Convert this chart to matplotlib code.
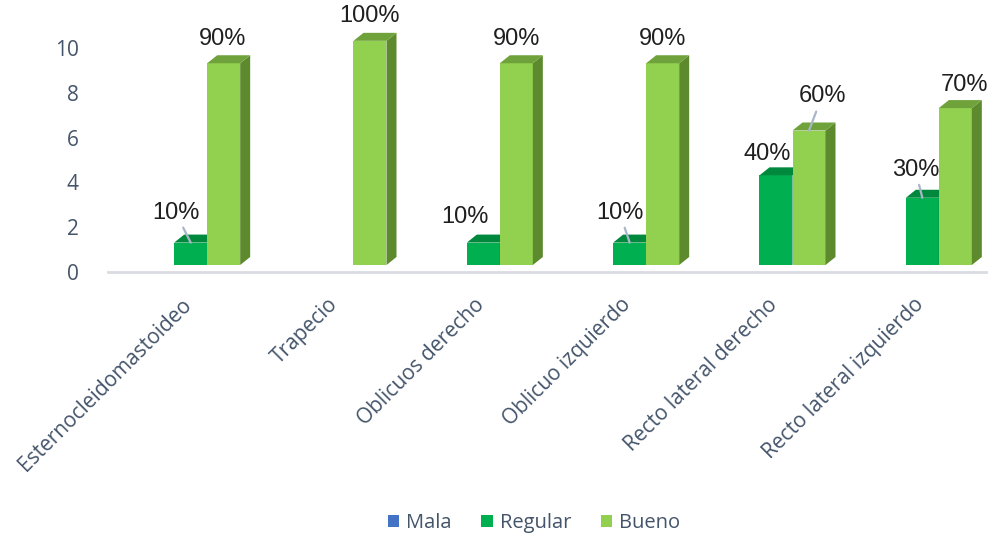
import matplotlib
matplotlib.use("Agg")
import matplotlib.pyplot as plt
from matplotlib.patches import Polygon, Rectangle
from matplotlib.transforms import offset_copy
import numpy as np

# ---- data -------------------------------------------------------------
categories = ["Esternocleidomastoideo", "Trapecio", "Oblicuos derecho",
              "Oblicuo izquierdo", "Recto lateral derecho",
              "Recto lateral izquierdo"]
series_names = ["Mala", "Regular", "Bueno"]
mala = [0, 0, 0, 0, 0, 0]
regular = [1, 0, 1, 1, 4, 3]
bueno = [9, 10, 9, 9, 6, 7]
regular_labels = ["10%", "", "10%", "10%", "40%", "30%"]
bueno_labels = ["90%", "100%", "90%", "90%", "60%", "70%"]
y_ticks = [0, 2, 4, 6, 8, 10]

# ---- styling ----------------------------------------------------------
front_colors = ["#4472C4", "#00B050", "#92D050"]
top_colors = ["#2F5597", "#00893D", "#6FA23A"]
side_colors = ["#264478", "#007A36", "#5E8A2E"]
axis_text = "#44546A"
leader_color = "#A9B6C8"
font_ui = "Open Sans"
font_lbl = "Liberation Sans"

# label offsets (pixels from the top-centre of each bar) and leader flags
reg_offsets = [(-15, 30), (0, 0), (-18, 26), (-10, 30), (-9, 21), (-7, 28)]
reg_leader = [True, False, False, True, False, True]
bue_offsets = [(-1, 24), (0, 25), (0, 24), (0, 24), (13, 34), (9, 23)]
bue_leader = [False, False, False, False, True, False]

W, H, DPI = 991, 537, 100
fig = plt.figure(figsize=(W / DPI, H / DPI), dpi=DPI)
ax = fig.add_axes([108 / W, (H - 272) / H, 878 / W, 269 / H])
ax.set_xlim(-0.5, len(categories) - 0.5)
ax.set_ylim(0, 12)

# pixel -> data scale for the oblique depth of the columns
p0 = ax.transData.transform((0, 0))
p1 = ax.transData.transform((1, 1))
sx, sy = p1[0] - p0[0], p1[1] - p0[1]
depth_x, depth_y = 10 / sx, 8 / sy

# front faces sit slightly above the floor edge
bar_tr = offset_copy(ax.transData, fig=fig, x=0, y=7, units="dots")

bw = 33 / sx
shift = 9.5 / sx
x = np.arange(len(categories))
values = [mala, regular, bueno]


def draw_column(x0, h, k):
    if h <= 0:
        return
    ax.add_patch(Rectangle((x0, 0), bw, h, facecolor=front_colors[k],
                           edgecolor="none", transform=bar_tr, zorder=3))
    ax.add_patch(Polygon([(x0 + bw, 0), (x0 + bw + depth_x, depth_y),
                          (x0 + bw + depth_x, h + depth_y), (x0 + bw, h)],
                         closed=True, facecolor=side_colors[k],
                         edgecolor="none", transform=bar_tr, zorder=3))
    ax.add_patch(Polygon([(x0, h), (x0 + bw, h),
                          (x0 + bw + depth_x, h + depth_y),
                          (x0 + depth_x, h + depth_y)],
                         closed=True, facecolor=top_colors[k],
                         edgecolor="none", transform=bar_tr, zorder=3))


for i in range(len(categories)):
    for k in range(3):
        left = x[i] + shift + (k - 1) * bw - bw / 2
        draw_column(left, values[k][i], k)


def label(i, h, text, k, off, leader):
    if not text:
        return
    cx = x[i] + shift + (k - 1) * bw
    arrow = None
    if leader:
        arrow = dict(arrowstyle="-", color=leader_color, lw=1.6,
                     shrinkA=1, shrinkB=0)
    ax.annotate(text, xy=(cx, h), xycoords=bar_tr, xytext=off,
                textcoords="offset pixels", ha="center", va="center",
                fontsize=17, family=font_lbl, color="#1F1F1F",
                arrowprops=arrow, zorder=5)


for i in range(len(categories)):
    label(i, regular[i], regular_labels[i], 1, reg_offsets[i], reg_leader[i])
    label(i, bueno[i], bueno_labels[i], 2, bue_offsets[i], bue_leader[i])

# ---- axes -------------------------------------------------------------
for s in ["top", "right", "left"]:
    ax.spines[s].set_visible(False)
ax.spines["bottom"].set_color("#D9DCE1")
ax.spines["bottom"].set_linewidth(2)
ax.set_yticks(y_ticks)
ax.set_yticklabels([str(t) for t in y_ticks], family=font_ui, fontsize=15,
                   color=axis_text)
ax.tick_params(axis="y", length=0, pad=21)
ax.set_xticks(x)
ax.set_xticklabels(categories, rotation=45, ha="right",
                   rotation_mode="anchor", family=font_ui, fontsize=15,
                   color=axis_text)
ax.tick_params(axis="x", length=0, pad=16)

# ---- legend -----------------------------------------------------------
handles = [Rectangle((0, 0), 1, 1, facecolor=c) for c in front_colors]
leg = fig.legend(handles, series_names, loc="center", ncol=3,
                 bbox_to_anchor=(534 / W, 1 - 523 / H), frameon=False,
                 prop={"family": font_ui, "size": 14.5}, handlelength=0.55,
                 handleheight=0.55, handletextpad=0.35, columnspacing=1.5)
for t in leg.get_texts():
    t.set_color(axis_text)

fig.savefig("out.png", dpi=DPI)
